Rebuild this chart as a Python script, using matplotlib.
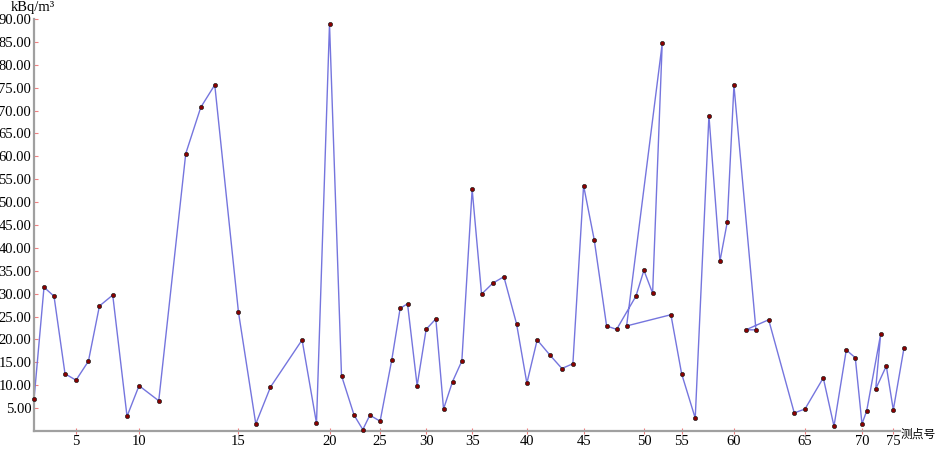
import matplotlib.pyplot as plt

# 测点位置 (沿测线距离) 与氡浓度 kBq/m3
pos = [0.0, 10.0, 20.0, 31.0, 42.0, 54.4, 65.4, 78.7, 93.0, 105.0,
       124.7, 151.7, 166.7, 180.7, 204.4, 221.7, 236.4, 268.0, 282.4, 295.4,
       307.4, 320.0, 328.7, 335.7, 346.0, 357.7, 366.0, 373.4, 383.0, 392.0,
       401.7, 409.4, 418.4, 427.7, 438.0, 447.4, 458.7, 469.7, 482.4, 492.7,
       503.0, 515.7, 527.7, 538.7, 549.4, 560.0, 572.4, 582.4, 601.7, 609.7,
       618.4, 628.0, 592.4, 636.7, 647.4, 661.0, 674.7, 685.7, 693.0, 699.7,
       721.7, 711.7, 734.4, 760.0, 770.7, 789.0, 799.7, 812.0, 821.0, 827.7,
       832.4, 846.4, 841.4, 852.0, 859.0, 869.7]
conc = [6.9, 31.4, 29.45, 12.5, 11.1, 15.25, 27.3, 29.7, 3.2, 9.9,
        6.6, 60.6, 70.7, 75.6, 25.95, 1.55, 9.6, 19.9, 1.7, 88.95,
        12.1, 3.45, 0.3, 3.45, 2.15, 15.6, 26.8, 27.8, 9.9, 22.2,
        24.5, 4.8, 10.8, 15.3, 52.8, 29.9, 32.3, 33.7, 23.4, 10.45,
        19.9, 16.6, 13.65, 14.7, 53.6, 41.8, 22.95, 22.2, 29.45, 35.1,
        30.1, 84.65, 22.95, 25.4, 12.5, 2.8, 68.9, 37.1, 45.6, 75.5,
        22.1, 22.1, 24.3, 3.95, 4.8, 11.6, 1.05, 17.7, 16.0, 1.55,
        4.4, 21.2, 9.15, 14.2, 4.6, 18.15]
tick_ids = [5, 10, 15, 20, 25, 30, 35, 40, 45, 50, 55, 60, 65, 70, 75]
y_ticks = [5, 10, 15, 20, 25, 30, 35, 40, 45, 50, 55, 60, 65, 70, 75, 80, 85, 90]

plt.rcParams['font.family'] = ['Liberation Serif', 'Noto Sans CJK SC']

fig = plt.figure(figsize=(9.36, 4.49), dpi=100)
ax = fig.add_axes([34 / 936, 18 / 449, 866 / 936, 412 / 449])

ax.plot(pos, conc, color="#7575de", lw=1.0, zorder=2, clip_on=False)
ax.plot(pos, conc, ls="none", marker="o", ms=3.0, mfc="#8b0000",
        mec="#222222", mew=0.5, zorder=3, clip_on=False)

ax.set_xlim(0, 865.7)
ax.set_ylim(0, 90)

ax.set_xticks([pos[i - 1] for i in tick_ids])
ax.set_xticklabels([str(i) for i in tick_ids])
ax.set_yticks(y_ticks)
ax.set_yticklabels(["%.2f" % v for v in y_ticks])

for s in ["top", "right"]:
    ax.spines[s].set_visible(False)
for s in ["left", "bottom"]:
    ax.spines[s].set_color("#a0a0a0")
    ax.spines[s].set_linewidth(1.6)

ax.tick_params(axis="x", direction="inout", length=4, width=0.8,
               color="#f08080", labelsize=10.5, pad=1)
ax.tick_params(axis="y", direction="in", length=3, width=0.8,
               color="#f08080", labelsize=10.5, pad=2)

fig.text(11 / 936, 1 - 8 / 449, "kBq/m³", fontsize=10.5, va="center", ha="left")
fig.text(901 / 936, 1 - 434 / 449, "测点号", fontsize=8.5, va="center", ha="left",
         family=['Noto Sans CJK SC', 'DejaVu Sans'])

plt.savefig("out.png", dpi=100)
